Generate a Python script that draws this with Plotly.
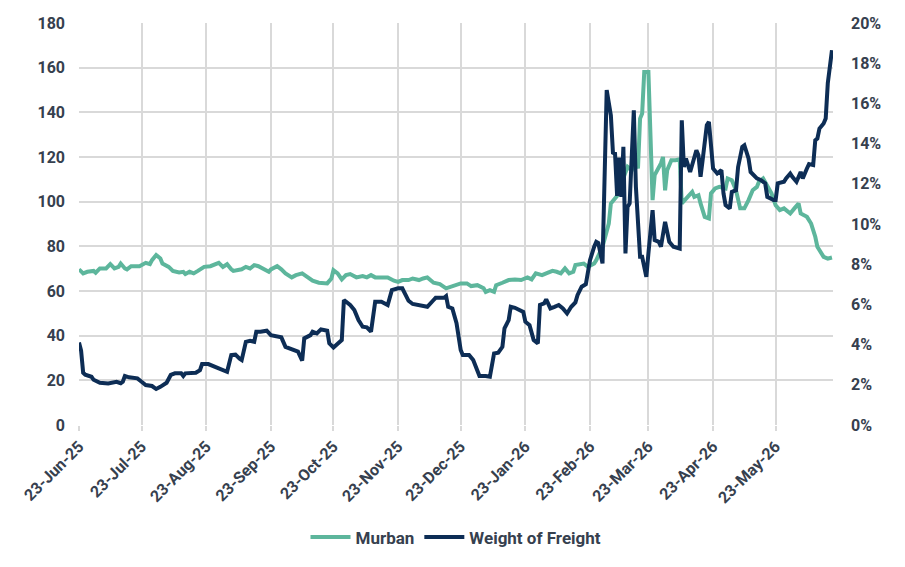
import plotly.graph_objects as go

# ---------------- data ----------------
murban_dates = [
    "2025-06-23", "2025-06-25", "2025-06-27", "2025-06-30", "2025-07-01", "2025-07-03", "2025-07-06",
    "2025-07-08", "2025-07-10", "2025-07-12", "2025-07-13", "2025-07-15", "2025-07-16", "2025-07-18",
    "2025-07-22", "2025-07-25", "2025-07-27", "2025-07-28", "2025-07-30", "2025-08-01", "2025-08-02",
    "2025-08-05", "2025-08-07", "2025-08-10", "2025-08-12", "2025-08-13", "2025-08-15", "2025-08-17",
    "2025-08-19", "2025-08-22", "2025-08-25", "2025-08-28", "2025-08-29", "2025-08-31", "2025-09-02",
    "2025-09-04", "2025-09-05", "2025-09-09", "2025-09-11", "2025-09-13", "2025-09-15", "2025-09-17",
    "2025-09-19", "2025-09-22", "2025-09-23", "2025-09-26", "2025-09-28", "2025-09-30", "2025-10-03",
    "2025-10-05", "2025-10-08", "2025-10-11", "2025-10-13", "2025-10-16", "2025-10-20", "2025-10-22",
    "2025-10-23", "2025-10-25", "2025-10-27", "2025-10-29", "2025-10-31", "2025-11-03", "2025-11-06",
    "2025-11-08", "2025-11-10", "2025-11-12", "2025-11-18", "2025-11-21", "2025-11-23", "2025-11-25",
    "2025-11-28", "2025-11-30", "2025-12-03", "2025-12-05", "2025-12-07", "2025-12-10", "2025-12-13",
    "2025-12-16", "2025-12-19", "2025-12-23", "2025-12-26", "2025-12-28", "2025-12-31", "2026-01-03",
    "2026-01-04", "2026-01-06", "2026-01-08", "2026-01-09", "2026-01-12", "2026-01-15", "2026-01-18",
    "2026-01-21", "2026-01-24", "2026-01-26", "2026-01-28", "2026-01-31", "2026-02-02", "2026-02-05",
    "2026-02-07", "2026-02-09", "2026-02-11", "2026-02-13", "2026-02-15", "2026-02-16", "2026-02-20",
    "2026-02-22", "2026-02-25", "2026-02-26", "2026-03-01", "2026-03-02", "2026-03-04", "2026-03-05",
    "2026-03-07", "2026-03-09", "2026-03-10", "2026-03-12", "2026-03-13", "2026-03-15", "2026-03-17",
    "2026-03-18", "2026-03-19", "2026-03-20", "2026-03-21", "2026-03-23", "2026-03-24", "2026-03-25",
    "2026-03-26", "2026-03-28", "2026-03-29", "2026-03-30", "2026-03-31", "2026-04-01", "2026-04-03",
    "2026-04-05", "2026-04-07", "2026-04-08", "2026-04-10", "2026-04-13", "2026-04-14", "2026-04-16",
    "2026-04-17", "2026-04-19", "2026-04-21", "2026-04-22", "2026-04-24", "2026-04-26", "2026-04-29",
    "2026-04-30", "2026-05-02", "2026-05-04", "2026-05-06", "2026-05-08", "2026-05-10", "2026-05-12",
    "2026-05-14", "2026-05-15", "2026-05-17", "2026-05-19", "2026-05-21", "2026-05-23", "2026-05-25",
    "2026-05-27", "2026-05-30", "2026-06-01", "2026-06-03", "2026-06-04", "2026-06-07", "2026-06-09",
    "2026-06-11", "2026-06-12", "2026-06-15", "2026-06-17", "2026-06-19",
]
murban_values = [
    69.7, 67.9, 68.6, 69.0, 68.2, 70.1, 70.1,
    72.0, 70.1, 70.8, 72.3, 70.1, 69.7, 71.1,
    71.1, 72.6, 72.0, 73.8, 76.1, 74.6, 72.3,
    70.8, 69.0, 68.3, 68.6, 67.6, 68.6, 67.9,
    69.0, 70.8, 71.1, 72.0, 72.6, 70.8, 72.0,
    69.7, 69.0, 69.7, 70.8, 70.1, 71.6, 71.1,
    70.1, 68.6, 69.7, 71.1, 69.7, 67.9, 66.1,
    67.1, 67.9, 66.1, 64.6, 63.7, 63.4, 65.6,
    69.3, 67.9, 65.2, 67.1, 67.6, 66.1, 66.7,
    66.1, 67.1, 66.1, 66.1, 64.6, 64.1, 64.9,
    64.9, 65.6, 64.9, 65.6, 66.1, 63.7, 63.1,
    61.2, 62.2, 63.4, 63.4, 62.2, 62.6, 61.2,
    59.6, 60.4, 59.6, 62.6, 63.7, 64.9, 65.2,
    64.9, 66.1, 65.2, 67.9, 67.1, 67.9, 69.0,
    68.6, 67.9, 70.1, 67.9, 68.6, 71.6, 72.3,
    70.8, 72.3, 73.8, 79.8, 82.8, 90.2, 99.2,
    101.4, 103.7, 108.1, 114.1, 115.6, 114.1, 118.6,
    114.9, 137.2, 139.5, 158.1, 158.1, 133.5, 100.7,
    111.9, 115.6, 117.1, 120.0, 105.1, 114.1, 118.6,
    118.6, 119.0, 99.2, 101.4, 104.4, 102.1, 102.9,
    99.2, 93.2, 92.5, 103.7, 105.9, 106.6, 105.9,
    110.4, 109.6, 105.1, 97.0, 97.0, 100.7, 105.1,
    106.6, 108.9, 110.4, 107.4, 103.7, 98.4, 96.2,
    97.0, 94.7, 97.0, 99.2, 94.7, 93.2, 90.2,
    84.3, 79.8, 75.3, 74.5, 75.0,
]

freight_dates = [
    "2025-06-23", "2025-06-24", "2025-06-25", "2025-06-26", "2025-06-29", "2025-06-30", "2025-07-03",
    "2025-07-07", "2025-07-11", "2025-07-13", "2025-07-14", "2025-07-15", "2025-07-17", "2025-07-21",
    "2025-07-23", "2025-07-25", "2025-07-28", "2025-07-30", "2025-08-01", "2025-08-04", "2025-08-06",
    "2025-08-08", "2025-08-11", "2025-08-12", "2025-08-13", "2025-08-18", "2025-08-20", "2025-08-21",
    "2025-08-24", "2025-08-27", "2025-08-30", "2025-09-02", "2025-09-04", "2025-09-06", "2025-09-08",
    "2025-09-09", "2025-09-11", "2025-09-13", "2025-09-15", "2025-09-16", "2025-09-18", "2025-09-21",
    "2025-09-23", "2025-09-26", "2025-09-28", "2025-09-30", "2025-10-04", "2025-10-06", "2025-10-08",
    "2025-10-09", "2025-10-12", "2025-10-13", "2025-10-15", "2025-10-17", "2025-10-20", "2025-10-21",
    "2025-10-23", "2025-10-25", "2025-10-27", "2025-10-28", "2025-10-31", "2025-11-02", "2025-11-04",
    "2025-11-06", "2025-11-08", "2025-11-10", "2025-11-12", "2025-11-15", "2025-11-18", "2025-11-20",
    "2025-11-23", "2025-11-25", "2025-11-26", "2025-11-28", "2025-11-30", "2025-12-03", "2025-12-06",
    "2025-12-07", "2025-12-10", "2025-12-11", "2025-12-15", "2025-12-16", "2025-12-17", "2025-12-19",
    "2025-12-21", "2025-12-23", "2025-12-24", "2025-12-27", "2025-12-29", "2025-12-31", "2026-01-01",
    "2026-01-04", "2026-01-06", "2026-01-08", "2026-01-10", "2026-01-12", "2026-01-13", "2026-01-15",
    "2026-01-16", "2026-01-18", "2026-01-20", "2026-01-22", "2026-01-23", "2026-01-25", "2026-01-27",
    "2026-01-29", "2026-01-30", "2026-02-01", "2026-02-02", "2026-02-04", "2026-02-06", "2026-02-08",
    "2026-02-10", "2026-02-12", "2026-02-14", "2026-02-16", "2026-02-17", "2026-02-19", "2026-02-21",
    "2026-02-23", "2026-02-25", "2026-02-26", "2026-02-27", "2026-03-01", "2026-03-03", "2026-03-05",
    "2026-03-06", "2026-03-07", "2026-03-08", "2026-03-09", "2026-03-10", "2026-03-11", "2026-03-12",
    "2026-03-13", "2026-03-14", "2026-03-16", "2026-03-17", "2026-03-19", "2026-03-20", "2026-03-22",
    "2026-03-23", "2026-03-25", "2026-03-26", "2026-03-28", "2026-03-29", "2026-03-31", "2026-04-02",
    "2026-04-04", "2026-04-07", "2026-04-08", "2026-04-09", "2026-04-10", "2026-04-12", "2026-04-13",
    "2026-04-15", "2026-04-16", "2026-04-17", "2026-04-18", "2026-04-20", "2026-04-21", "2026-04-22",
    "2026-04-23", "2026-04-25", "2026-04-27", "2026-04-28", "2026-04-29", "2026-05-01", "2026-05-02",
    "2026-05-04", "2026-05-05", "2026-05-07", "2026-05-08", "2026-05-10", "2026-05-11", "2026-05-14",
    "2026-05-16", "2026-05-18", "2026-05-19", "2026-05-22", "2026-05-23", "2026-05-24", "2026-05-27",
    "2026-05-28", "2026-05-30", "2026-05-31", "2026-06-02", "2026-06-04", "2026-06-05", "2026-06-07",
    "2026-06-08", "2026-06-10", "2026-06-11", "2026-06-12", "2026-06-13", "2026-06-15", "2026-06-16",
    "2026-06-17", "2026-06-19",
]
freight_values = [
    4.10, 3.70, 2.60, 2.50, 2.40, 2.25, 2.10,
    2.07, 2.15, 2.08, 2.15, 2.44, 2.37, 2.32,
    2.15, 1.99, 1.94, 1.79, 1.90, 2.10, 2.49,
    2.57, 2.57, 2.44, 2.57, 2.60, 2.73, 3.03,
    3.03, 2.90, 2.77, 2.65, 3.48, 3.50, 3.30,
    3.23, 4.14, 4.19, 4.14, 4.64, 4.64, 4.69,
    4.47, 4.39, 4.36, 3.89, 3.73, 3.65, 3.20,
    4.31, 4.47, 4.64, 4.56, 4.76, 4.69, 4.06,
    3.86, 4.03, 4.23, 6.22, 5.97, 5.72, 5.22,
    4.89, 4.86, 4.64, 6.13, 6.13, 5.97, 6.71,
    6.80, 6.80, 6.55, 6.18, 6.02, 5.97, 5.92,
    5.88, 6.22, 6.33, 6.33, 6.41, 5.88, 5.80,
    5.06, 3.73, 3.48, 3.48, 3.23, 2.65, 2.44,
    2.44, 2.40, 3.56, 3.60, 3.89, 4.81, 5.22,
    5.88, 5.83, 5.72, 5.63, 5.14, 4.97, 4.23,
    4.06, 5.97, 6.05, 6.25, 5.80, 5.88, 5.97,
    5.80, 5.55, 5.88, 6.10, 6.46, 6.88, 7.00,
    8.20, 8.87, 9.11, 9.05, 8.04, 16.66, 15.40,
    13.55, 13.50, 11.40, 13.30, 11.35, 13.84, 8.54,
    10.85, 11.02, 15.66, 11.85, 8.37, 8.37, 7.37,
    8.54, 10.69, 9.20, 9.11, 8.87, 10.11, 9.11,
    8.87, 8.78, 15.16, 12.84, 13.26, 12.59, 12.93,
    13.67, 13.42, 12.35, 13.18, 14.92, 15.08, 14.01,
    12.76, 12.51, 12.68, 11.52, 10.94, 10.77, 11.60,
    11.68, 12.84, 13.84, 13.92, 13.26, 12.59, 12.27,
    12.18, 12.02, 11.35, 11.19, 11.19, 12.02, 12.10,
    12.27, 12.51, 12.35, 12.10, 12.59, 12.27, 12.76,
    12.98, 12.93, 14.17, 14.25, 14.75, 15.00, 15.25,
    17.00, 18.65,
]

x_tick_dates = [
    "2025-06-23", "2025-07-23", "2025-08-23", "2025-09-23", "2025-10-23", "2025-11-23",
    "2025-12-23", "2026-01-23", "2026-02-23", "2026-03-23", "2026-04-23", "2026-05-23",
]
x_tick_labels = [
    "23-Jun-25", "23-Jul-25", "23-Aug-25", "23-Sep-25", "23-Oct-25", "23-Nov-25",
    "23-Dec-25", "23-Jan-26", "23-Feb-26", "23-Mar-26", "23-Apr-26", "23-May-26",
]
left_ticks = [0, 20, 40, 60, 80, 100, 120, 140, 160, 180]
right_ticks = [0, 2, 4, 6, 8, 10, 12, 14, 16, 18, 20]
right_tick_labels = [f"{v}%" for v in right_ticks]

# ---------------- styling ----------------
TEAL = "#5DB69C"
NAVY = "#0D2D55"
TEXT = "#36404E"
GRID = "#D9D9D9"
FONT = "Roboto"

fig = go.Figure()
fig.add_trace(go.Scatter(
    x=murban_dates, y=murban_values, name="Murban", mode="lines",
    line=dict(color=TEAL, width=4), yaxis="y",
))
fig.add_trace(go.Scatter(
    x=freight_dates, y=freight_values, name="Weight of Freight", mode="lines",
    line=dict(color=NAVY, width=4), yaxis="y2",
))

tickfont = dict(family=FONT, size=16, color=TEXT, weight="bold")

fig.update_layout(
    width=905, height=567,
    margin=dict(l=79, r=72, t=23, b=142),
    paper_bgcolor="white", plot_bgcolor="white",
    font=dict(family=FONT, color=TEXT),
    showlegend=True,
    legend=dict(
        orientation="h", x=0.5, xanchor="center", y=-0.28, yanchor="middle",
        font=dict(family=FONT, size=17, color=TEXT, weight="bold"),
        itemwidth=40, traceorder="normal",
    ),
    xaxis=dict(
        type="date",
        range=["2025-06-23", "2026-06-19 12:00"],
        tickmode="array", tickvals=x_tick_dates, ticktext=x_tick_labels,
        tickangle=-45,
        tickfont=dict(family=FONT, size=16, color=TEXT, weight="bold"),
        showgrid=True, gridcolor=GRID, gridwidth=1.5,
        ticks="outside", ticklen=5, tickcolor=GRID, tickwidth=1.5,
        zeroline=False, showline=False,
    ),
    yaxis=dict(
        range=[0, 180], tickmode="array", tickvals=left_ticks,
        tickfont=tickfont,
        showgrid=True, gridcolor=GRID, gridwidth=1.5,
        zeroline=False, showline=False,
        ticklabelstandoff=13,
    ),
    yaxis2=dict(
        range=[0, 20], overlaying="y", side="right",
        tickmode="array", tickvals=right_ticks, ticktext=right_tick_labels,
        tickfont=tickfont,
        showgrid=False, zeroline=False, showline=False,
        ticklabelstandoff=17,
    ),
)

fig.write_html("out.html")
